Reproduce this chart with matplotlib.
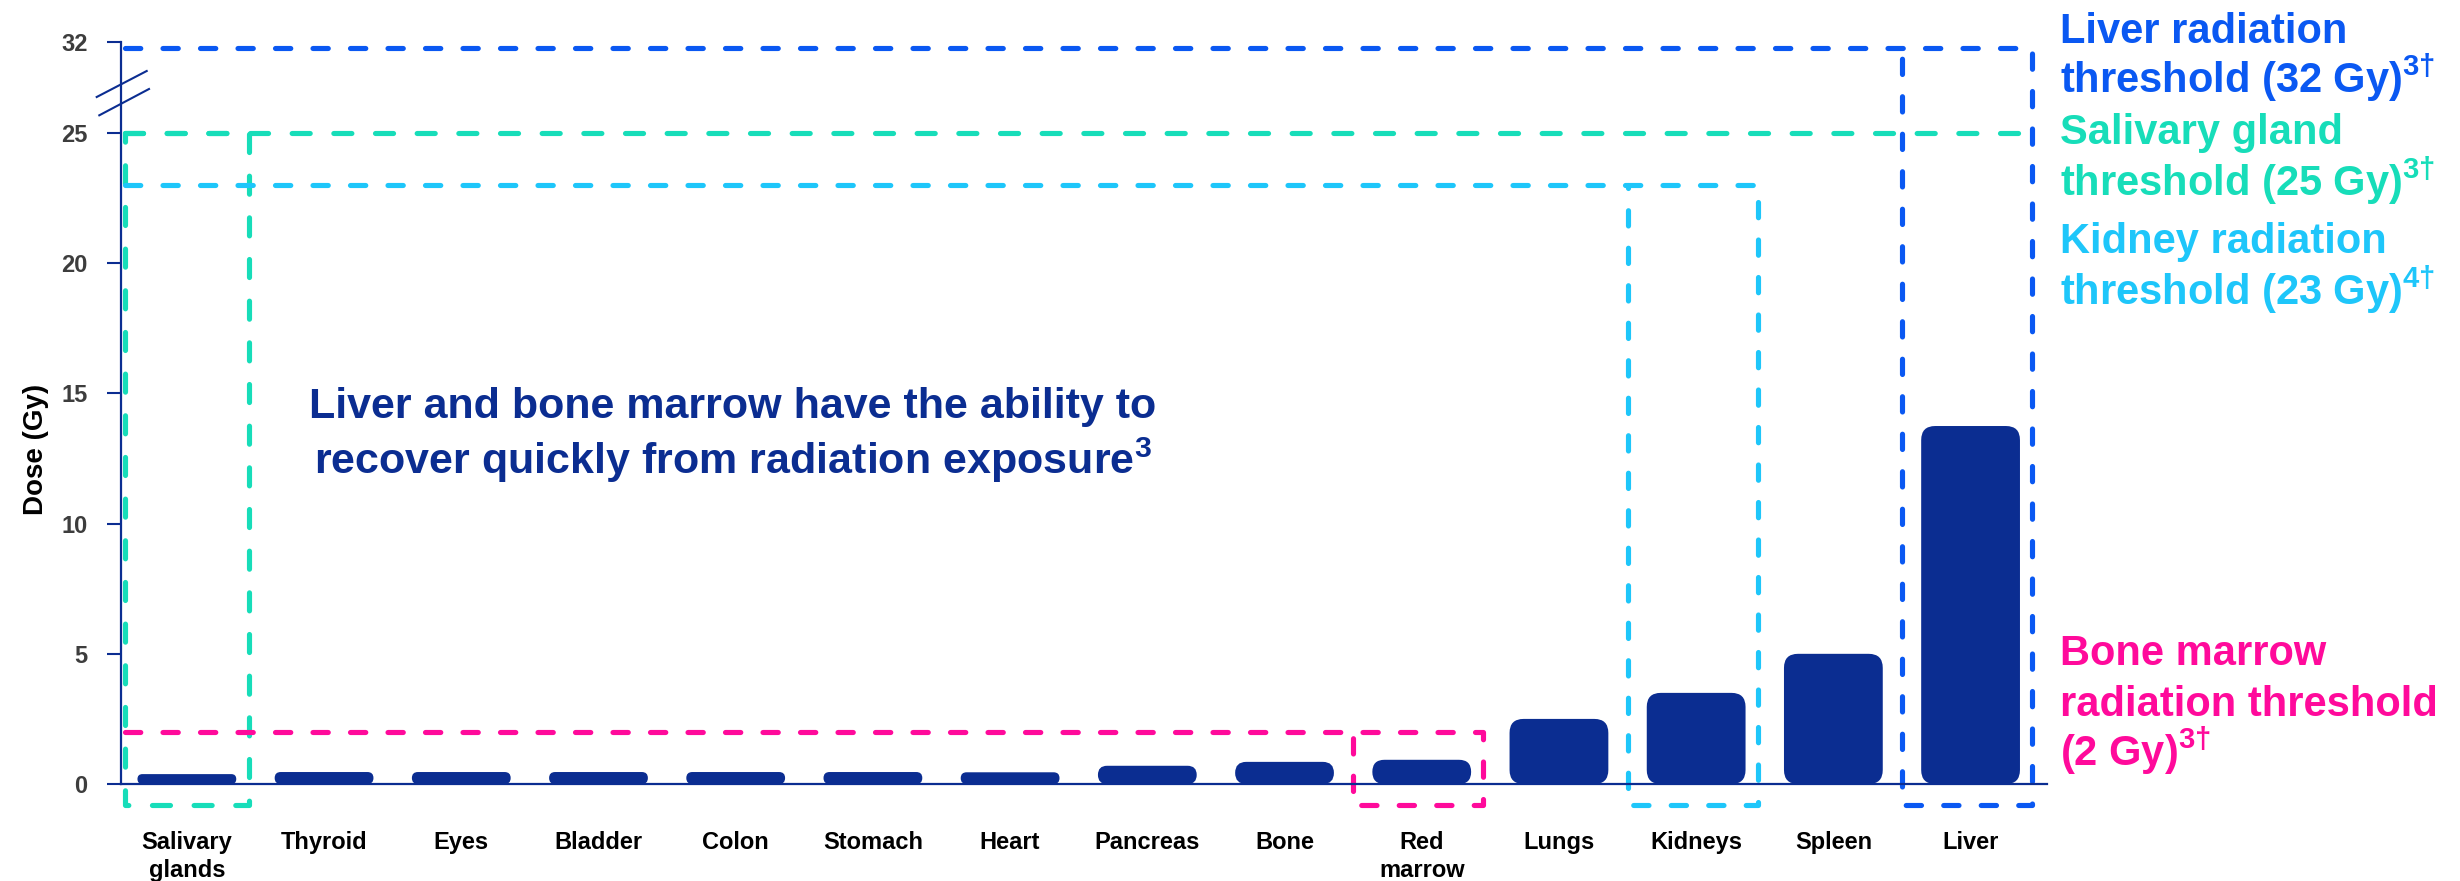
import numpy as np
import matplotlib
matplotlib.use("Agg")
import matplotlib.pyplot as plt
from matplotlib.patches import FancyBboxPatch
from matplotlib.lines import Line2D

# ---------------- data ----------------
organs = ["Salivary\nglands", "Thyroid", "Eyes", "Bladder", "Colon", "Stomach", "Heart",
          "Pancreas", "Bone", "Red\nmarrow", "Lungs", "Kidneys", "Spleen", "Liver"]
dose_gy = [0.38, 0.46, 0.46, 0.46, 0.46, 0.46, 0.45, 0.70, 0.85, 0.93, 2.5, 3.5, 5.0, 13.75]

ytick_values = [0, 5, 10, 15, 20, 25, 32]
ytick_labels = ["0", "5", "10", "15", "20", "25", "32"]

threshold_gy = [32, 25, 23, 2]
threshold_box_organ = ["Liver", "Salivary\nglands", "Kidneys", "Red\nmarrow"]
threshold_line_end_organ = ["Liver", "Liver", "Kidneys", "Red\nmarrow"]
threshold_colors = ["#0A58F2", "#17DDB9", "#1EC6FA", "#FF0A9B"]
threshold_text_lines = [
    ["Liver radiation", "threshold (32 Gy)$^{3†}$"],
    ["Salivary gland", "threshold (25 Gy)$^{3†}$"],
    ["Kidney radiation", "threshold (23 Gy)$^{4†}$"],
    ["Bone marrow", "radiation threshold", "(2 Gy)$^{3†}$"],
]
center_text_lines = ["Liver and bone marrow have the ability to",
                     "recover quickly from radiation exposure$^{3}$"]
y_label = "Dose (Gy)"

# ---------------- style ----------------
NAVY = "#0B2D91"
plt.rcParams["font.family"] = ["Liberation Sans", "DejaVu Sans"]
plt.rcParams["font.weight"] = "bold"
plt.rcParams["mathtext.fontset"] = "custom"
plt.rcParams["mathtext.rm"] = "Liberation Sans:bold"
plt.rcParams["mathtext.bf"] = "Liberation Sans:bold"
plt.rcParams["mathtext.it"] = "Liberation Sans:bold"
plt.rcParams["mathtext.default"] = "rm"
plt.rcParams["lines.scale_dashes"] = False

W, H = 2460, 881
BREAK, SQUEEZE = 25.0, 0.5


def fwd(y):
    y = np.asarray(y, dtype=float)
    return np.where(y <= BREAK, y, BREAK + (y - BREAK) * SQUEEZE)


def inv(y):
    y = np.asarray(y, dtype=float)
    return np.where(y <= BREAK, y, BREAK + (y - BREAK) / SQUEEZE)


fig = plt.figure(figsize=(W / 100, H / 100), dpi=100)
ax_l, ax_r, ax_b, ax_t = 121, 2047, 784, 42
ax = fig.add_axes([ax_l / W, (H - ax_b) / H, (ax_r - ax_l) / W, (ax_b - ax_t) / H])
ax.set_yscale("function", functions=(fwd, inv))

x = np.arange(len(organs))
bars = ax.bar(x, dose_gy, width=0.72, color=NAVY, zorder=2)
ax.set_xlim(-0.48, 13.557)
ax.set_ylim(0, 32)

# rounded bars built from the library's bar rectangles
p0 = ax.transData.transform((0, 0))
p1 = ax.transData.transform((1, 1))
px_x = p1[0] - p0[0]
px_y = p1[1] - p0[1]
aspect = px_x / px_y
r_round = 14 / px_x
for rect in bars.patches:
    bx, by, bw, bh = rect.get_x(), rect.get_y(), rect.get_width(), rect.get_height()
    rect.set_visible(False)
    rr = min(r_round, bw / 2, bh / aspect / 2)
    ax.add_patch(FancyBboxPatch((bx, by), bw, bh,
                                boxstyle=f"round,pad=0,rounding_size={rr}",
                                mutation_aspect=aspect, fc=NAVY, ec="none", zorder=2))

# threshold dashed boxes
lw = 3.7
bottom_y = -0.8
for val, box_org, end_org, col in zip(threshold_gy, threshold_box_organ,
                                      threshold_line_end_organ, threshold_colors):
    i = organs.index(box_org)
    j = organs.index(end_org)
    left = max(i - 0.5, -0.45)
    right = i + 0.45
    # the top-most line sits a few pixels under the axis end in the original artwork
    y_line = float(inv(fwd(val) - 6 / px_y)) if val > BREAK else val
    dash = (0, (13, 17)) if i != j else (0, (11, 16))
    kw = dict(color=col, lw=lw, linestyle=dash, dash_capstyle="round",
              solid_capstyle="round", dash_joinstyle="round", clip_on=False, zorder=3)
    if i == j:
        ax.plot([-0.45, right, right, left, left],
                [y_line, y_line, bottom_y, bottom_y, y_line], **kw)
    else:
        ax.plot([left, j + 0.45], [y_line, y_line], **kw)
        ax.plot([left, right, right, left, left],
                [y_line, y_line, bottom_y, bottom_y, y_line], **kw)

# axes styling
for s in ["top", "right"]:
    ax.spines[s].set_visible(False)
for s in ["left", "bottom"]:
    ax.spines[s].set_color(NAVY)
    ax.spines[s].set_linewidth(1.6)
    ax.spines[s].set_zorder(4)

ax.set_yticks(ytick_values)
ax.set_yticklabels(ytick_labels)
ax.tick_params(axis="y", direction="out", length=10, width=1.5, color=NAVY,
               pad=14, labelsize=17, labelcolor="#3D3D3D")
ax.set_xticks(x)
ax.set_xticklabels(organs)
ax.tick_params(axis="x", length=0, pad=34, labelsize=17, labelcolor="black")
for lbl in ax.get_xticklabels():
    lbl.set_linespacing(1.25)
    lbl.set_fontweight("bold")
for lbl in ax.get_yticklabels():
    lbl.set_fontweight("bold")

ax.set_ylabel(y_label, fontsize=20, fontweight="bold", color="black")
ax.yaxis.set_label_coords((36 - ax_l) / (ax_r - ax_l), (ax_b - 449) / (ax_b - ax_t))
ax.yaxis.label.set_va("center")

# axis break marks
aw, ah = ax_r - ax_l, ax_b - ax_t
for (xa, ya), (xb, yb) in [((96.7, 97), (146.7, 71)), ((99.3, 115.3), (149, 89))]:
    ax.add_line(Line2D([(xa - ax_l) / aw, (xb - ax_l) / aw],
                       [(ax_b - ya) / ah, (ax_b - yb) / ah],
                       transform=ax.transAxes, color=NAVY, lw=1.5, clip_on=False, zorder=5))

# right-hand threshold texts
baselines = [[43, 93], [144, 196], [253, 305], [665, 716, 766]]
for lines, bls, col in zip(threshold_text_lines, baselines, threshold_colors):
    for s, b in zip(lines, bls):
        fig.text(2060 / W, 1 - b / H, s, color=col, fontsize=30, fontweight="bold",
                 ha="left", va="baseline")

# center annotation
for s, b in zip(center_text_lines, [418, 474]):
    fig.text(733 / W, 1 - b / H, s, color=NAVY, fontsize=31, fontweight="bold",
             ha="center", va="baseline")

fig.savefig("out.png", dpi=100)
